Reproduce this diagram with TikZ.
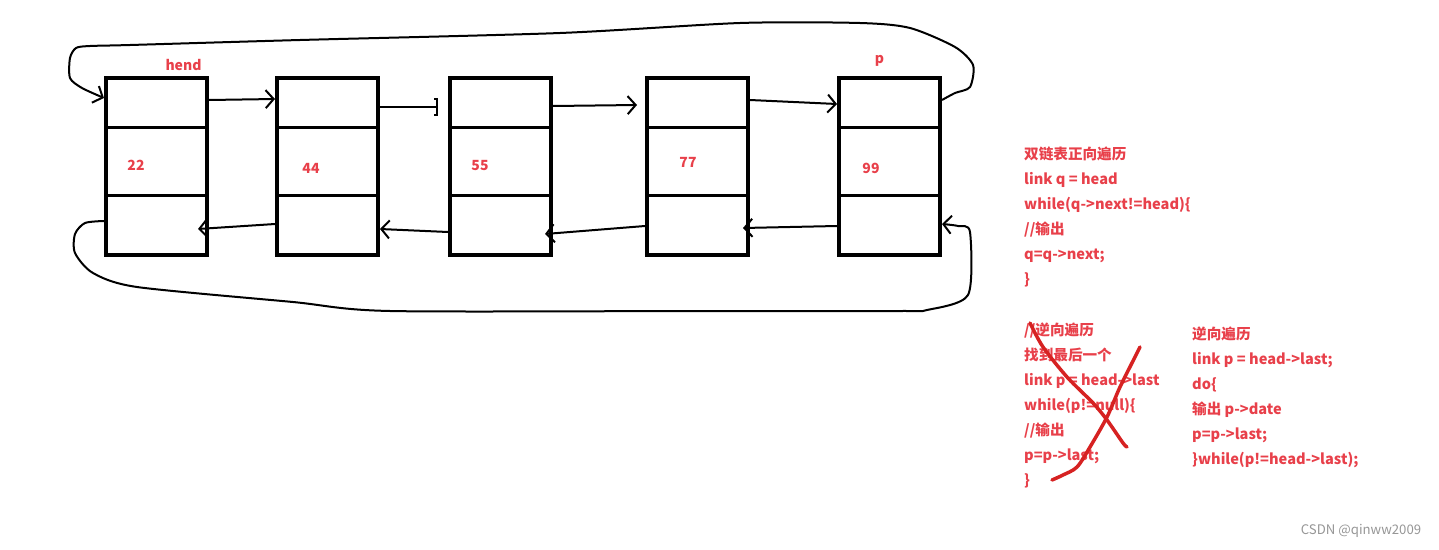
\documentclass[tikz,border=0pt]{standalone}
\usepackage{fontspec}
\setmainfont{Noto Sans CJK SC}
\usetikzlibrary{arrows.meta, positioning, calc}
\definecolor{codered}{RGB}{232,64,74}
\definecolor{crossred}{RGB}{214,34,34}
\definecolor{markgray}{RGB}{150,150,150}

\begin{document}
\begin{tikzpicture}[
  x=1pt, y=-1pt,
  cell/.style={draw, line width=4pt, minimum width=101pt, minimum height=177pt, inner sep=0pt},
  val/.style={text=codered, font=\bfseries\fontsize{14}{16}\selectfont, inner sep=0pt},
  code/.style={text=codered, font=\bfseries\fontsize{14.6}{25}\selectfont, align=left,
               anchor=north west, inner sep=0pt},
  arr/.style={line width=2pt, -{Straight Barb[length=8pt,width=18pt]}},
  link/.style={line width=2pt},
  cross/.style={draw=crossred, line width=3.5pt, line cap=round}
]
  \useasboundingbox (0,0) rectangle (1439,549);

  % nodes of the list
  \node[cell] (n1) at (156.5,166.5) {};
  \node[cell, right=66pt of n1] (n2) {};
  \node[cell, right=68pt of n2] (n3) {};
  \node[cell, right=92pt of n3] (n4) {};
  \node[cell, right=87pt of n4] (n5) {};
  \foreach \i in {1,...,5}{
    \draw[line width=3pt] ([yshift=-51pt]n\i.north west) -- ([yshift=-51pt]n\i.north east);
    \draw[line width=3pt] ([yshift=-119pt]n\i.north west) -- ([yshift=-119pt]n\i.north east);
  }

  \node[val] (v1) at ([xshift=-20.5pt,yshift=1.5pt]n1.center) {22};
  \node[val] (v2) at ([xshift=-16.5pt,yshift=-1.5pt]n2.center) {44};
  \node[val] (v3) at ([xshift=-20.5pt,yshift=0.5pt]n3.center) {55};
  \node[val] (v4) at ([xshift=-9.5pt,yshift=4.5pt]n4.center) {77};
  \node[val] (v5) at ([xshift=-18.5pt,yshift=-1.5pt]n5.center) {99};
  \node[val, above=5pt of n1, xshift=27pt] (hend) {hend};
  \node[val, above=9pt of n5, xshift=-10pt] (p) {p};

  % next pointers
  \coordinate (gap) at ([xshift=-10pt,yshift=-31pt]n3.north west);
  \draw[arr] ([yshift=-24pt]n1.north east) -- ([yshift=-23pt]n2.north west);
  \draw[link, -{Bracket[width=18pt]}] ([yshift=-31pt]n2.north east) -- (gap);
  \draw[arr] ([yshift=-30pt]n3.north east) -- ([xshift=-8pt,yshift=-29pt]n4.north west);
  \draw[arr] ([yshift=-24pt]n4.north east) -- ([yshift=-28pt]n5.north west);
  \draw[arr] plot[smooth, tension=0.45] coordinates {([yshift=-24pt]n5.north east) (955,93)
    (970,87) (973,65) (955,47) (910,28) (860,23) (740,23) (560,33) (300,40) (130,45)
    (90,46) (76,48) (70,58) (70,78) (82,88) ([yshift=-22pt]n1.north west)};

  % prior pointers
  \draw[arr] ([yshift=-148pt]n2.north west) -- ([xshift=-11pt,yshift=-153pt]n1.north east);
  \draw[arr] ([yshift=-156pt]n3.north west) -- ([yshift=-153pt]n2.north east);
  \draw[arr] ([yshift=-150pt]n4.north west) -- ([xshift=-8pt,yshift=-158pt]n3.north east);
  \draw[arr] ([yshift=-150pt]n5.north west) -- ([xshift=-7pt,yshift=-152pt]n4.north east);
  \draw[arr] plot[smooth, tension=0.45] coordinates {([yshift=-145pt]n1.north west) (85,223)
    (75,234) (75,253) (93,273) (137,287) (293,302) (390,311) (700,311) (900,311) (927,310)
    (968,295) (970,232) (958,226) ([yshift=-148pt]n5.north east)};

  % code
  \node[code] (fwd) at (1024,147) {双链表正向遍历\\link q = head\\while(q->next!=head)\{\\//输出\\q=q->next;\\\}};
  \node[code] (oldbwd) at (1024,323) {//逆向遍历\\找到最后一个\\link p = head->last\\while(p!=null)\{\\//输出\\p=p->last;\\\}};
  \node[code] (bwd) at (1192,327) {逆向遍历\\link p = head->last;\\do\{\\输出 p->date\\p=p->last;\\\}while(p!=head->last);};

  \draw[cross] plot[smooth] coordinates {(1030,323) (1043,347) (1067,377) (1093,403)
    (1107,420) (1123,443) (1127,447)};
  \draw[cross] plot[smooth] coordinates {(1140,347) (1137,353) (1120,387) (1107,417)
    (1090,447) (1077,467) (1063,475) (1052,480)};

  \node[text=markgray, font=\fontsize{13.2}{15}\selectfont, inner sep=0pt] (mark) at (1361,531) {CSDN @qinww2009};
\end{tikzpicture}
\end{document}
